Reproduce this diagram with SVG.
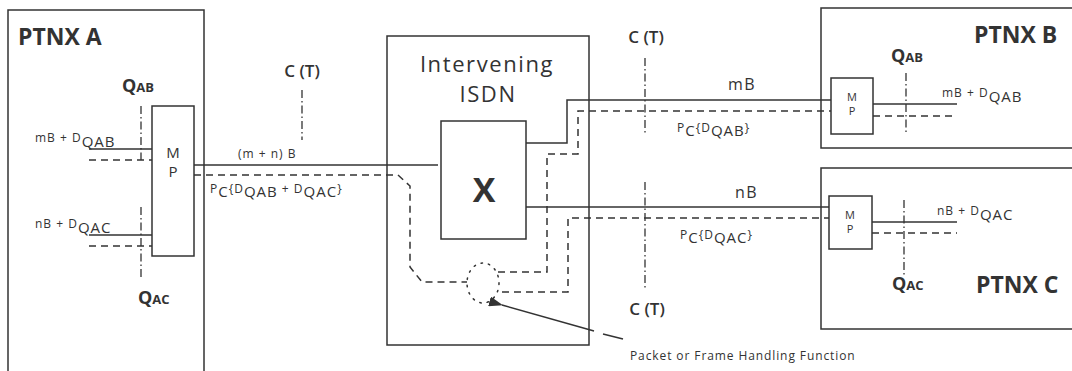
<svg xmlns="http://www.w3.org/2000/svg" width="1072" height="371" viewBox="0 0 1072 371">
<defs>
<style>
.box{fill:none;stroke:#333;stroke-width:1.5}
.sol{fill:none;stroke:#333;stroke-width:1.5}
.dsh{fill:none;stroke:#333;stroke-width:1.5;stroke-dasharray:7 5}
.dd{fill:none;stroke:#333;stroke-width:1.3;stroke-dasharray:8 3 1.5 3}
.dot{fill:none;stroke:#333;stroke-width:1.5;stroke-dasharray:1.5 6;stroke-linecap:round}
text{font-family:"Open Sans","DejaVu Sans",sans-serif;fill:#333}
.hd{font-size:23px;font-weight:700}
.q{font-size:18px;font-weight:700}
.qs{font-size:13px;font-weight:700}
.ct{font-size:17px;font-weight:600}
.sm{font-size:12px;letter-spacing:1px}
.sub{font-size:15px}
.mp{font-size:15px}
.mps{font-size:11px}
.lb{font-size:16px;letter-spacing:1.5px}
</style>
<marker id="ah" markerWidth="14" markerHeight="10" refX="1" refY="5" orient="auto" markerUnits="userSpaceOnUse">
<path d="M14,0 L0,5 L14,10 Z" fill="#333"/>
</marker>
</defs>
<rect width="1072" height="371" fill="#fff"/>

<g id="ptnxA">
<rect class="box" x="8" y="10" width="196" height="380"/>
<text class="hd" x="18" y="45">PTNX A</text>
<rect class="box" x="152" y="106" width="42" height="150"/>
<text class="mp" x="173" y="158" text-anchor="middle">M</text>
<text class="mp" x="173" y="177" text-anchor="middle">P</text>
<text x="122" y="92"><tspan class="q">Q</tspan><tspan class="qs">AB</tspan></text>
<text x="138" y="304"><tspan class="q">Q</tspan><tspan class="qs">AC</tspan></text>
<text class="sm" x="35" y="142">mB + D<tspan class="sub" dy="5">QAB</tspan></text>
<text class="sm" x="35" y="228">nB + D<tspan class="sub" dy="5">QAC</tspan></text>
<path class="sol" d="M89,149 H152 M89,235 H152"/>
<path class="dsh" d="M89,160 H152 M89,246 H152"/>
<path class="dd" d="M141,106 V160 M141,207 V278"/>
</g>

<g id="isdn">
<rect class="box" x="387" y="36" width="202" height="309"/>
<text x="487" y="72" text-anchor="middle" style="font-size:22px;letter-spacing:1.6px">Intervening</text>
<text x="488" y="102" text-anchor="middle" style="font-size:22px;letter-spacing:1.6px">ISDN</text>
<rect class="box" x="441" y="121" width="85" height="118"/>
<text x="484" y="202" text-anchor="middle" style="font-size:34px;font-weight:700">X</text>
<ellipse class="dot" cx="483" cy="283" rx="16" ry="20"/>
</g>

<g id="ptnxB">
<rect class="box" x="821" y="8" width="260" height="140"/>
<text class="hd" x="974" y="43">PTNX B</text>
<rect class="box" x="831" y="78" width="42" height="56"/>
<text class="mps" x="852" y="101" text-anchor="middle">M</text>
<text class="mps" x="852" y="115" text-anchor="middle">P</text>
<text x="891" y="62"><tspan class="q">Q</tspan><tspan class="qs">AB</tspan></text>
<text class="sm" x="942" y="97">mB + D<tspan class="sub" dy="5">QAB</tspan></text>
<path class="sol" d="M873,104 H957"/>
<path class="dsh" d="M873,116 H957"/>
<path class="dd" d="M906,73 V133"/>
</g>

<g id="ptnxC">
<rect class="box" x="821" y="168" width="260" height="161"/>
<text class="hd" x="976" y="293">PTNX C</text>
<rect class="box" x="829" y="196" width="43" height="53"/>
<text class="mps" x="850" y="219" text-anchor="middle">M</text>
<text class="mps" x="850" y="233" text-anchor="middle">P</text>
<text x="892" y="290"><tspan class="q">Q</tspan><tspan class="qs">AC</tspan></text>
<text class="sm" x="937" y="215">nB + D<tspan class="sub" dy="5">QAC</tspan></text>
<path class="sol" d="M872,222 H957"/>
<path class="dsh" d="M872,233 H957"/>
<path class="dd" d="M904,200 V277"/>
</g>

<g id="connectors">
<path class="sol" d="M194,165 H438"/>
<path class="dsh" d="M194,175 H398 L410,186 V267 L422,282 H467"/>
<path class="sol" d="M526,143 H567 V100 H831"/>
<path class="dsh" d="M498,272 H547 V154 H578 V111 H831"/>
<path class="sol" d="M526,207 H829"/>
<path class="dsh" d="M502,292 H568 V218 H829"/>
<path class="dd" d="M302,90 V140 M645,58 V135 M645,182 V290"/>
<path class="sol" d="M594,331 L502,305" marker-end="url(#ah)"/>
<path class="sol" d="M603,334 L623,339"/>
</g>

<g id="labels">
<text class="ct" x="302" y="77" text-anchor="middle">C (T)</text>
<text class="ct" x="646" y="43" text-anchor="middle">C (T)</text>
<text class="ct" x="647" y="315" text-anchor="middle">C (T)</text>
<text class="sm" x="238" y="158">(m + n) B</text>
<text class="sm" x="210" y="193">P<tspan class="sub" dy="4">C</tspan><tspan dy="-4">{D</tspan><tspan class="sub" dy="4">QAB</tspan><tspan dy="-4"> + D</tspan><tspan class="sub" dy="4">QAC</tspan><tspan dy="-4">}</tspan></text>
<text class="lb" x="728" y="90">mB</text>
<text class="lb" x="735" y="198">nB</text>
<text class="sm" x="677" y="132">P<tspan class="sub" dy="4">C</tspan><tspan dy="-4">{D</tspan><tspan class="sub" dy="4">QAB</tspan><tspan dy="-4">}</tspan></text>
<text class="sm" x="680" y="239">P<tspan class="sub" dy="4">C</tspan><tspan dy="-4">{D</tspan><tspan class="sub" dy="4">QAC</tspan><tspan dy="-4">}</tspan></text>
<text x="630" y="360" style="font-size:12px;letter-spacing:0.9px">Packet or Frame Handling Function</text>
</g>
</svg>
